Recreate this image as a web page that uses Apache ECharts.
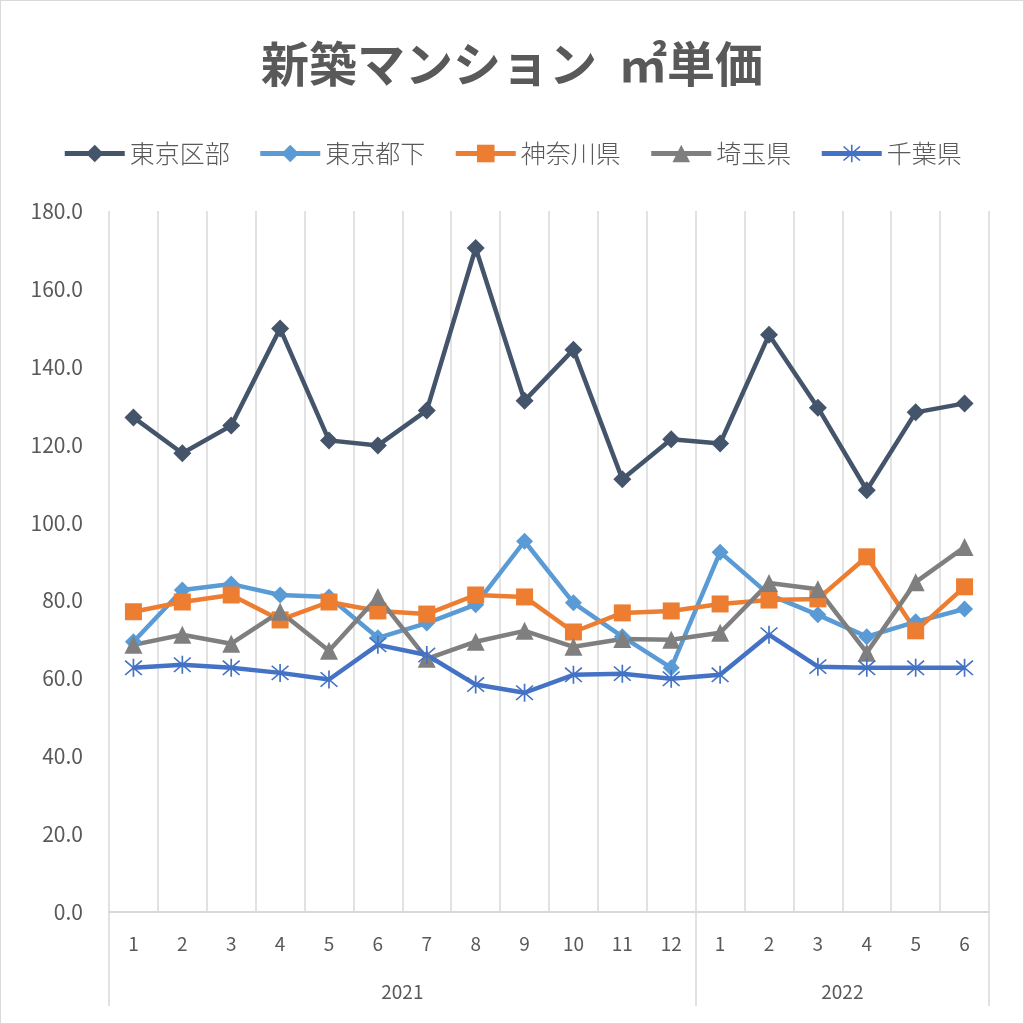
<!DOCTYPE html>
<html lang="ja">
<head>
<meta charset="utf-8">
<title>新築マンション ㎡単価</title>
<script src="https://cdn.jsdelivr.net/npm/echarts@6/dist/echarts.min.js"></script>
<style>
  html, body { margin: 0; padding: 0; background: #fff; }
  #chart { width: 1022px; height: 1022px; border: 1px solid #d9d9d9; }
</style>
</head>
<body>
<div id="chart"></div>
<script>
// 月（2021/1 〜 2022/6）
const months = ["1", "2", "3", "4", "5", "6", "7", "8", "9", "10", "11", "12", "1", "2", "3", "4", "5", "6"];
const years = ["2021", "2022"];
const yearCenters = [6, 15]; // 各年の範囲の中央（カテゴリ単位）

const tokyoKu = [127.0, 117.8, 124.9, 149.8, 121.1, 119.8, 128.8, 170.5, 131.3, 144.4, 111.1, 121.4, 120.3, 148.2, 129.5, 108.3, 128.3, 130.6];
const tokyoToka = [69.4, 82.7, 84.2, 81.4, 80.9, 70.4, 74.2, 78.9, 95.2, 79.4, 70.7, 62.7, 92.4, 81.5, 76.3, 70.7, 74.5, 77.8];
const kanagawa = [77.1, 79.6, 81.4, 75.0, 79.6, 77.3, 76.5, 81.4, 80.9, 71.9, 76.8, 77.3, 79.1, 80.1, 80.4, 91.2, 72.2, 83.5];
const saitama = [68.6, 71.2, 68.9, 77.1, 67.1, 80.9, 65.0, 69.4, 72.2, 68.1, 70.1, 69.9, 71.7, 84.5, 82.9, 66.6, 84.7, 93.7];
const chiba = [62.7, 63.5, 62.7, 61.4, 59.7, 68.6, 66.0, 58.4, 56.3, 60.9, 61.2, 59.9, 60.9, 71.2, 63.0, 62.7, 62.7, 62.7];

const yTicks = { min: 0, max: 180, interval: 20 };

// Excel の「*」マーカー
const asterisk =
  "path://M9.2,0L10.8,0L10.8,20L9.2,20Z" +
  "M2.57,1.43L18.57,17.43L17.43,18.57L1.43,2.57Z" +
  "M17.43,1.43L18.57,2.57L2.57,18.57L1.43,17.43Z";

const font = "'Noto Sans CJK JP', 'Noto Sans', sans-serif";
const textColor = "#595959";
const gridColor = "#d9d9d9";

const makeSeries = (name, data, color, symbol, size) => ({
  name: name,
  type: "line",
  data: data,
  symbol: symbol,
  symbolSize: size,
  lineStyle: { color: color, width: 4.5 },
  itemStyle: { color: color },
  emphasis: { disabled: true },
  z: 3,
});

const getOption = () => {
  return {
    animation: false,
    textStyle: { fontFamily: font },
    title: {
      text: "新築マンション  ㎡単価",
      left: "center",
      top: 34,
      textStyle: { fontSize: 48, fontWeight: "bold", color: textColor, fontFamily: font },
    },
    legend: {
      top: 135,
      left: "center",
      itemWidth: 60,
      itemHeight: 22,
      itemGap: 28,
      lineStyle: { width: 5 },
      textStyle: { fontSize: 25, fontWeight: 300, color: textColor, fontFamily: font },
      data: ["東京区部", "東京都下", "神奈川県", "埼玉県", "千葉県"],
    },
    grid: { left: 108, right: 34, top: 210, bottom: 111, containLabel: false },
    xAxis: [
      {
        type: "category",
        data: months,
        boundaryGap: true,
        axisLine: { lineStyle: { color: gridColor, width: 2 } },
        axisTick: {
          show: true,
          interval: (i) => i === 0 || i === 12,
          length: 94,
          lineStyle: { color: gridColor, width: 1.5 },
        },
        axisLabel: { interval: 0, margin: 22, fontSize: 19, color: textColor, fontFamily: font },
        splitLine: { show: true, interval: 0, lineStyle: { color: gridColor, width: 1.5 } },
      },
      {
        type: "value",
        position: "bottom",
        min: 0,
        max: months.length,
        interval: 3,
        axisLine: { show: false },
        axisTick: { show: false },
        splitLine: { show: false },
        axisLabel: {
          margin: 70,
          fontSize: 19,
          color: textColor,
          fontFamily: font,
          formatter: (v) => {
            const i = yearCenters.indexOf(v);
            return i >= 0 ? years[i] : "";
          },
        },
      },
    ],
    yAxis: {
      type: "value",
      min: yTicks.min,
      max: yTicks.max,
      interval: yTicks.interval,
      axisLine: { show: false },
      axisTick: { show: false },
      splitLine: { show: false },
      axisLabel: {
        margin: 26,
        fontSize: 21,
        color: textColor,
        fontFamily: font,
        formatter: (v) => v.toFixed(1),
      },
    },
    series: [
      makeSeries("東京区部", tokyoKu, "#44546A", "diamond", 18),
      makeSeries("東京都下", tokyoToka, "#5B9BD5", "diamond", 17),
      makeSeries("神奈川県", kanagawa, "#ED7D31", "rect", 17),
      makeSeries("埼玉県", saitama, "#7F7F7F", "triangle", 18),
      makeSeries("千葉県", chiba, "#4472C4", asterisk, 18),
    ],
  };
};

addEventListener("DOMContentLoaded", () => {
  const chart = echarts.init(document.getElementById("chart"));
  chart.setOption(getOption());
});
</script>
</body>
</html>
